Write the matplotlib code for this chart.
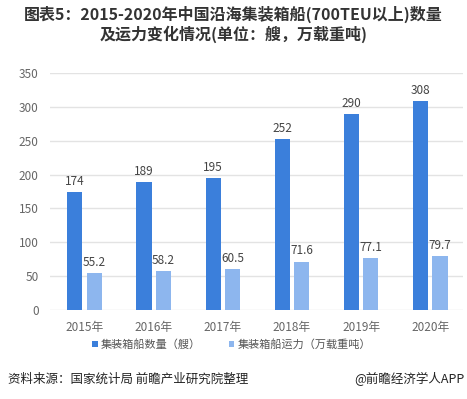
import matplotlib.pyplot as plt
import numpy as np

plt.rcParams['font.family'] = ['Noto Sans CJK SC', 'DejaVu Sans']

years = ['2015年', '2016年', '2017年', '2018年', '2019年', '2020年']
ship_count = [174, 189, 195, 252, 290, 308]
capacity = [55.2, 58.2, 60.5, 71.6, 77.1, 79.7]
labels = ['集装箱船数量（艘）', '集装箱船运力（万载重吨）']

dark = '#3b7fdb'
light = '#8db6ee'

fig = plt.figure(figsize=(4.67, 3.99), dpi=100)
ax = fig.add_axes([0.107, 0.223, 0.884, 0.594])

x = np.arange(len(years))
w = 0.22
b1 = ax.bar(x - 0.14, ship_count, w, color=dark, label=labels[0], zorder=3)
b2 = ax.bar(x + 0.14, capacity, w, color=light, label=labels[1], zorder=3)

for rect, v in zip(b1, ship_count):
    ax.text(rect.get_x() + rect.get_width() / 2, v + 6, str(v),
            ha='center', va='bottom', fontsize=8.5, color='#444444')
for rect, v in zip(b2, capacity):
    ax.text(rect.get_x() + rect.get_width() / 2, v + 6, '%.1f' % v,
            ha='center', va='bottom', fontsize=8.5, color='#444444')

ax.set_xlim(-0.5, 5.47)
ax.set_ylim(0, 350)
ax.set_yticks(range(0, 351, 50))
ax.set_xticks(x)
ax.set_xticklabels(years)
ax.tick_params(axis='both', length=0, labelsize=8.5, colors='#666666')
ax.tick_params(axis='y', pad=8)
ax.tick_params(axis='x', pad=8)
ax.grid(axis='y', color='#e3e3e3', linewidth=1, zorder=0)
for s in ax.spines.values():
    s.set_visible(False)

ax.legend(handles=[b1, b2], loc='upper center', bbox_to_anchor=(0.44, -0.08),
          ncol=2, frameon=False, fontsize=8, labelcolor='#555555',
          handlelength=0.5, handleheight=0.5, handletextpad=0.3, columnspacing=2.5)

fig.text(0.5, 0.985, '图表5：2015-2020年中国沿海集装箱船(700TEU以上)数量\n及运力变化情况(单位：艘，万载重吨)',
         ha='center', va='top', fontsize=11.5, fontweight='bold', color='#333333',
         linespacing=1.2)

fig.text(0.017, 0.05, '资料来源：国家统计局 前瞻产业研究院整理', ha='left', va='center',
         fontsize=9, color='#222222')
fig.text(0.995, 0.05, '@前瞻经济学人APP', ha='right', va='center',
         fontsize=9, color='#222222')

fig.savefig('out.png', dpi=100)
